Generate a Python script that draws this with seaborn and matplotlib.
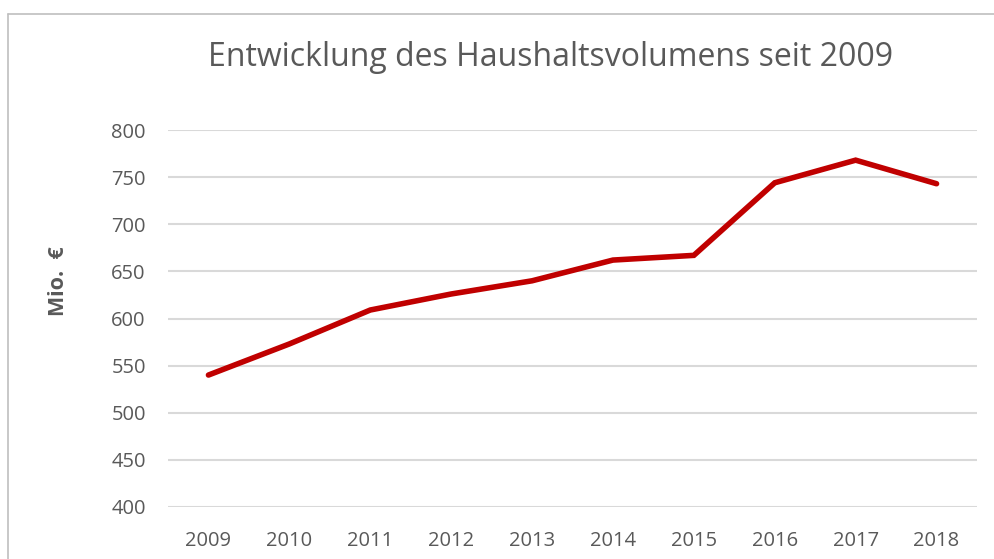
import matplotlib
matplotlib.use("Agg")
import matplotlib.pyplot as plt
import seaborn as sns
import pandas as pd
from matplotlib.lines import Line2D

years = ["2009", "2010", "2011", "2012", "2013", "2014", "2015", "2016", "2017", "2018"]
values = [540, 573, 609, 626, 640, 662, 667, 744, 768, 743]
y_ticks = [400, 450, 500, 550, 600, 650, 700, 750, 800]

df = pd.DataFrame({"Jahr": years, "Wert": values})

sns.set_theme(style="white")
plt.rcParams["font.family"] = ["Open Sans", "DejaVu Sans"]

fig = plt.figure(figsize=(9.94, 5.59), dpi=100)
ax = fig.add_axes([168/994, 1 - 507/559, (977-168)/994, (507-130)/559])

sns.lineplot(data=df, x="Jahr", y="Wert", ax=ax, color="#C00000", linewidth=4,
             sort=False, solid_capstyle="round", solid_joinstyle="miter")

ax.set_xlim(-0.5, len(years) - 0.5)
ax.set_ylim(400, 800)
ax.set_yticks(y_ticks)
ax.set_yticklabels([str(t) for t in y_ticks])
ax.yaxis.grid(True, color="#d9d9d9", linewidth=1.5)
ax.set_axisbelow(True)
for s in ax.spines.values():
    s.set_visible(False)
ax.tick_params(axis="both", length=0, labelsize=14.5, colors="#595959")
ax.tick_params(axis="y", pad=16)
ax.tick_params(axis="x", pad=17)
ax.set_xlabel("")
ax.set_ylabel("")

fig.text(58/994, 1 - 281/559, "Mio.  €", rotation=90, ha="center", va="center",
         fontsize=15.5, fontweight="bold", color="#595959")

fig.text(551/994, 1 - 57/559, "Entwicklung des Haushaltsvolumens seit 2009",
         ha="center", va="center", fontsize=23, color="#595959")

# chart area border (left and top)
fig.add_artist(Line2D([8/994, 8/994], [0, 1 - 14/559], transform=fig.transFigure,
                      color="#bfbfbf", linewidth=1.2))
fig.add_artist(Line2D([8/994, 1], [1 - 14/559, 1 - 14/559], transform=fig.transFigure,
                      color="#bfbfbf", linewidth=1.2))

fig.savefig("out.png", dpi=100)
